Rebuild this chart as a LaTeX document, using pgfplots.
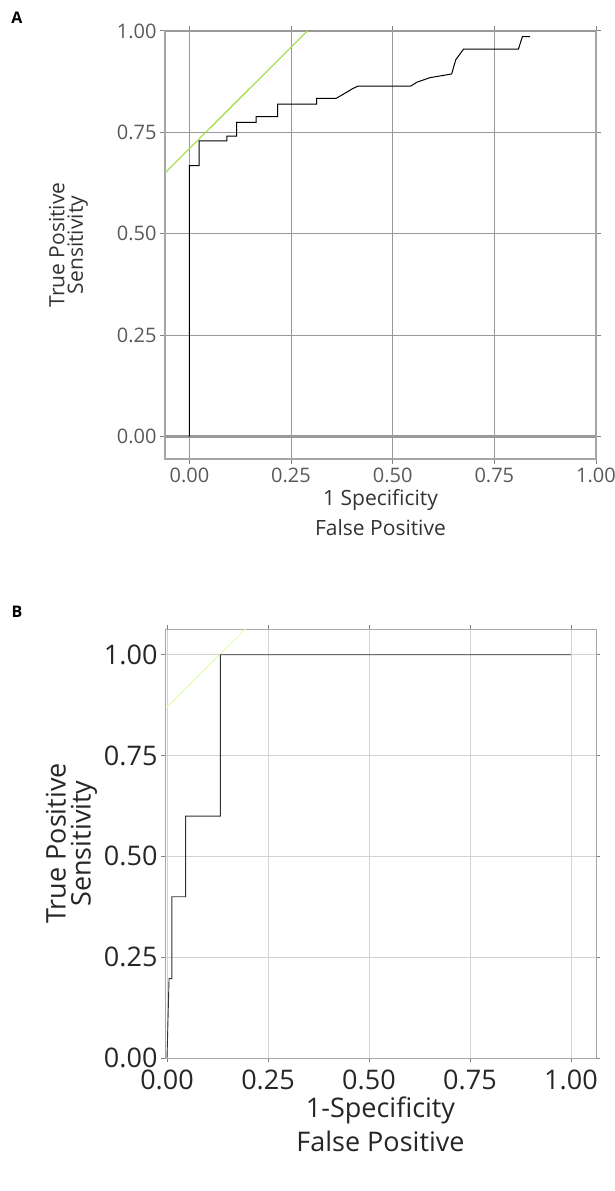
\documentclass[border=0pt]{standalone}
\usepackage{pgfplots}
\pgfplotsset{compat=1.18}
\usepackage{fontspec}
\setmainfont{Open Sans}
\begin{document}
\begin{tikzpicture}
\useasboundingbox (0,0) rectangle (614pt,1191pt);
% Panel A
\begin{axis}[at={(165pt,732pt)},anchor=south west,scale only axis,
  width=431pt,height=428pt,
  xmin=-0.06,xmax=1.0,ymin=-0.055,ymax=1.0,
  xtick={0,0.25,0.5,0.75,1},ytick={0,0.25,0.5,0.75,1},
  xticklabels={0.00,0.25,0.50,0.75,1.00},yticklabels={0.00,0.25,0.50,0.75,1.00},
  /pgf/number format/assume math mode=true,
  grid=major,grid style={gray!80,line width=1pt},
  axis line style={gray!70,line width=1.2pt},
  tick style={gray,line width=1pt},tick align=outside,major tick length=5pt,
  ticklabel style={font=\fontsize{20}{20}\selectfont,text=black!65},
  xlabel={\shortstack{1 Specificity\\[6pt]False Positive}},
  ylabel={\shortstack{True Positive\\[0pt]Sensitivity}},
  ylabel style={yshift=22pt},
  label style={font=\fontsize{21}{23}\selectfont,text=black!80},
  clip=true]
\addplot[gray!80,line width=2.5pt] coordinates {(-0.06,0)(1,0)};
\addplot[gray!80,line width=2.5pt] coordinates {(-0.06,1)(1,1)};
\addplot[green!40!yellow!70!gray!80,line width=1.3pt] coordinates {(-0.06,0.65)(0.29,1.0)};
\addplot[black,line width=1pt] coordinates {
(0,0)(0,0.668)(0.024,0.668)(0.024,0.729)(0.092,0.729)(0.092,0.741)(0.116,0.741)(0.116,0.775)
(0.164,0.775)(0.164,0.789)(0.217,0.789)(0.217,0.82)(0.313,0.82)(0.313,0.834)(0.361,0.834)
(0.38,0.845)(0.40,0.857)(0.414,0.864)(0.544,0.864)(0.56,0.874)(0.592,0.885)(0.645,0.894)
(0.655,0.929)(0.674,0.955)(0.809,0.955)(0.819,0.986)(0.838,0.986)};
\end{axis}
\node[font=\bfseries\fontsize{16}{16}\selectfont] at (17pt,1173pt) {A};
% Panel B
\begin{axis}[at={(165pt,133pt)},anchor=south west,scale only axis,
  width=431pt,height=429pt,
  xmin=-0.005,xmax=1.062,ymin=0,ymax=1.064,
  xtick={0,0.25,0.5,0.75,1},ytick={0,0.25,0.5,0.75,1},
  xticklabels={0.00,0.25,0.50,0.75,1.00},yticklabels={0.00,0.25,0.50,0.75,1.00},
  /pgf/number format/assume math mode=true,
  grid=major,grid style={gray!35,line width=0.6pt},
  axis line style={gray!70,line width=0.8pt},
  tick style={gray,line width=0.6pt},tick align=outside,major tick length=4pt,
  ticklabel style={font=\fontsize{27}{27}\selectfont,text=black!85},
  xticklabel style={yshift=-4pt},
  xlabel={\shortstack{1-Specificity\\[4pt]False Positive}},
  ylabel={\shortstack{True Positive\\[2pt]Sensitivity}},
  label style={font=\fontsize{27}{30}\selectfont,text=black!85},
  clip=true]
\addplot[green!40!yellow!25,line width=1.2pt] coordinates {(0,0.87)(0.2,1.07)};
\addplot[black!80,line width=0.9pt] coordinates {
(0,0)(0.005,0.197)(0.012,0.197)(0.012,0.4)(0.046,0.4)(0.046,0.6)(0.132,0.6)(0.132,1.0)(1.0,1.0)};
\end{axis}
\node[font=\bfseries\fontsize{16}{16}\selectfont] at (17pt,579pt) {B};
\end{tikzpicture}
\end{document}
